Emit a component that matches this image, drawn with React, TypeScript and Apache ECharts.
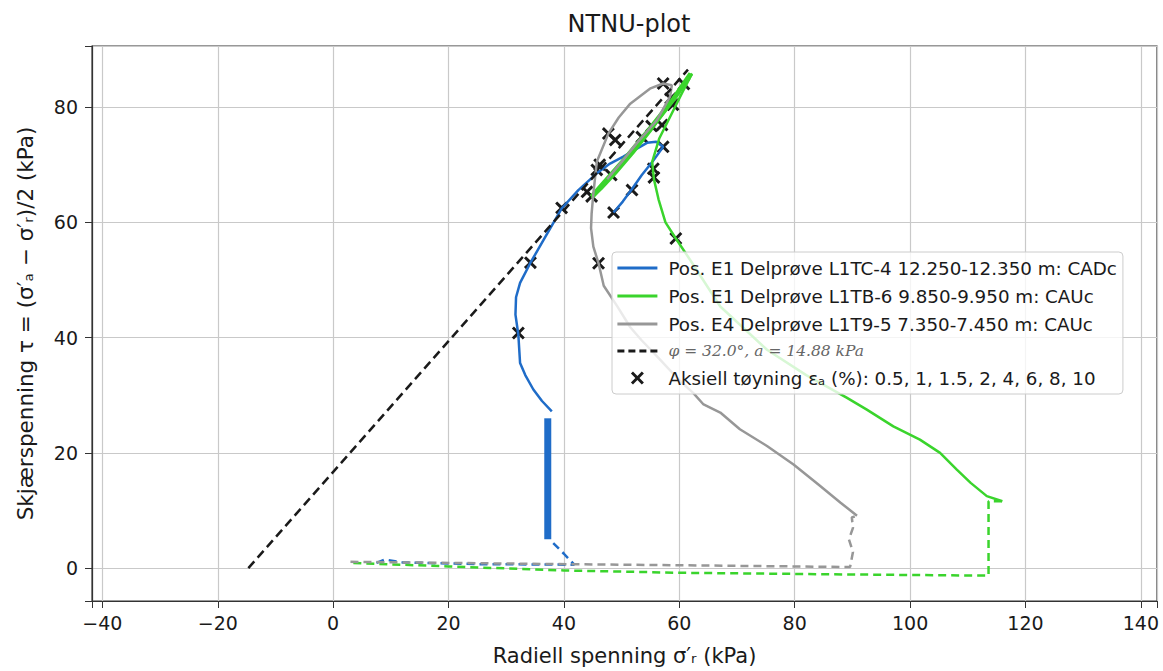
import React, { useEffect, useRef } from "react";
import * as echarts from "echarts";

type P = [number, number];

// Legend names
const nameBlue = "Pos. E1 Delprøve L1TC-4 12.250-12.350 m: CADc";
const nameGreen = "Pos. E1 Delprøve L1TB-6 9.850-9.950 m: CAUc";
const nameGray = "Pos. E4 Delprøve L1T9-5 7.350-7.450 m: CAUc";
const namePhi = "φ = 32.0°, a = 14.88 kPa";
const nameMarks = "Aksiell tøyning εₐ (%): 0.5, 1, 1.5, 2, 4, 6, 8, 10";

// Blue (CADc)
const blueConsol: P[] = [[7.5, 0.9], [9, 1.5], [12, 1.0], [25, 0.7], [41.8, 0.6], [40, 2.5], [37.9, 4.6]];
const blueBand: P[] = [[37.2, 5], [37.2, 26]];
const blueShear: P[] = [
  [37.9, 27.2], [36.2, 29], [34.7, 31], [33.3, 33.5], [32.4, 35.6], [32.1, 40.5], [31.6, 44], [31.7, 47],
  [32.4, 49.5], [34.2, 53], [36.5, 57], [39.6, 62.4], [42.5, 65.6], [45.7, 68.5], [48, 70.2], [50.3, 71.4],
  [52.5, 72.7], [54.4, 73.8], [56, 74], [57.2, 73.1], [55.4, 70.6], [53.5, 68.2], [51.8, 65.8], [50.2, 63.6], [48.6, 61.7],
];

// Green (CAUc)
const greenConsol: P[] = [[3.5, 0.9], [20, 0.3], [40, -0.4], [60, -0.8], [90, -1.1], [113.6, -1.3], [113.6, 2.8], [113.6, 11.6], [116, 11.6]];
const greenBand: P[] = [[44.8, 64.4], [50, 70.3], [55, 76.3], [59, 81.4], [62, 85.8]];
const greenShear: P[] = [
  [116, 11.6], [113.3, 12.5], [110.5, 14.8], [108.1, 17.1], [105.2, 20], [101.7, 22.3], [97.1, 24.6], [92.5, 27.5],
  [89, 29.6], [82, 33.5], [75.2, 37.9], [67.1, 45.4], [62, 53.3], [59.4, 57.2], [57.6, 60], [56.4, 64], [55.6, 67.5],
  [55.3, 70.5], [56.5, 74.5], [58.5, 78.5], [60.5, 82.5], [62.2, 85.8], [61, 84.5], [58, 80], [55, 75.8], [52, 72],
  [49, 68.5], [46.5, 65.8], [44.8, 64.2],
];

// Gray (CAUc)
const grayConsol: P[] = [[3, 1.1], [30, 0.8], [60, 0.5], [89.6, 0.2], [90.1, 2.8], [89.4, 5], [90.1, 7], [89.9, 8.8], [90.8, 9.1]];
const grayShear: P[] = [
  [90.8, 9.1], [87.9, 11.4], [84, 14.6], [79.8, 18], [75.2, 21.2], [70.5, 24.1], [67.1, 27], [64.2, 28.4],
  [62.4, 30.4], [60, 32.6], [56.1, 36.8], [53.5, 39.5], [51.5, 41.8], [49.2, 45.5], [46.9, 49], [46, 52.9],
  [45.1, 55.8], [44.7, 59], [44.8, 61.5], [45.1, 65], [45.7, 70.5], [47.7, 75.4], [49.5, 78.2], [51.5, 80.6],
  [54.9, 83.2], [57.2, 84.1], [58.7, 83.8], [58.4, 81.8], [56.1, 77.7], [52.6, 73.7], [50, 70.5], [47.5, 67.5],
];

// Failure line
const phiLine: P[] = [[-14.7, 0], [61.5, 86.5]];

// Strain markers
const blueMarks: P[] = [[32.1, 40.8], [34.2, 53], [39.6, 62.5], [45.7, 69.1], [57.2, 73.1], [55.5, 69.3], [51.8, 65.6], [48.6, 61.7]];
const greenMarks: P[] = [[59.4, 57.2], [55.6, 67.8], [57, 76.9], [58.9, 80.4], [60.8, 84], [53.5, 74.8], [48.2, 68.2], [44, 65.3]];
const grayMarks: P[] = [[46, 52.9], [44.8, 64.5], [46.2, 70], [47.7, 75.4], [57.2, 84.1], [58.5, 81.5], [55.2, 76.7], [48.9, 74.3]];

const xMin = -41.8;
const xMax = 142.8;
const yMin = -5.7;
const yMax = 90.6;

const BLUE = "#1f6cc8";
const GREEN = "#3ad42c";
const GRAY = "#979797";
const BLACK = "#1a1a1a";
const FONT = "DejaVu Sans";

const XPATH = "path://M0,1.6L1.6,0L5,3.4L8.4,0L10,1.6L6.6,5L10,8.4L8.4,10L5,6.6L1.6,10L0,8.4L3.4,5Z";

const fmt = (v: number) => {
  if (Math.abs(v - Math.round(v / 20) * 20) > 1e-6) return "";
  return v < 0 ? "\u2212" + Math.abs(v) : String(v);
};

export default function App() {
  const ref = useRef<HTMLDivElement>(null);
  useEffect(() => {
    const chart = echarts.init(ref.current!, null, { renderer: "svg" });
    const line = (name: string, data: P[], color: string, width: number, dashed = false) => ({
      name,
      type: "line",
      data,
      symbol: "none",
      showSymbol: false,
      lineStyle: { color, width, type: dashed ? [8, 5] : "solid" },
      itemStyle: { color },
      emphasis: { disabled: true },
    });
    const legLine = (name: string, color: string, dashed = false) => ({
      name,
      itemStyle: { opacity: 0 },
      lineStyle: { color, width: 2.8, type: dashed ? [7, 4] : "solid" },
    });
    chart.setOption({
      animation: false,
      title: {
        text: "NTNU-plot",
        left: 624,
        top: 7,
        textAlign: "center",
        textStyle: { fontFamily: FONT, fontSize: 24, fontWeight: "normal", color: BLACK },
      },
      grid: {
        left: 92,
        right: 6,
        top: 46,
        bottom: 69,
        show: true,
        borderColor: "#333",
        borderWidth: 1.2,
        backgroundColor: "transparent",
      },
      xAxis: {
        type: "value",
        min: xMin,
        max: xMax,
        splitNumber: 9,
        name: "Radiell spenning σ′ᵣ (kPa)",
        nameLocation: "middle",
        nameGap: 44,
        nameTextStyle: { fontFamily: FONT, fontSize: 21, color: BLACK },
        axisLine: { show: true, onZero: false, lineStyle: { color: "#333", width: 1.2 } },
        axisTick: { show: true, length: 7, inside: false, lineStyle: { color: "#333" } },
        axisLabel: { formatter: fmt, fontFamily: FONT, fontSize: 19, color: BLACK, margin: 12 },
        splitLine: { show: true, lineStyle: { color: "#c9c9c9", width: 1.2 } },
      },
      yAxis: {
        type: "value",
        min: yMin,
        max: yMax,
        splitNumber: 5,
        name: "Skjærspenning τ = (σ′ₐ − σ′ᵣ)/2 (kPa)",
        nameLocation: "middle",
        nameGap: 56,
        nameTextStyle: { fontFamily: FONT, fontSize: 21.5, color: BLACK },
        axisLine: { show: true, onZero: false, lineStyle: { color: "#333", width: 1.2 } },
        axisTick: { show: true, length: 7, inside: false, lineStyle: { color: "#333" } },
        axisLabel: { formatter: fmt, fontFamily: FONT, fontSize: 19, color: BLACK, margin: 14 },
        splitLine: { show: true, lineStyle: { color: "#c9c9c9", width: 1.2 } },
      },
      legend: {
        orient: "vertical",
        left: 612,
        top: 252,
        itemWidth: 40,
        itemHeight: 13,
        itemGap: 10,
        backgroundColor: "rgba(255,255,255,0.8)",
        borderColor: "#cccccc",
        borderWidth: 1,
        borderRadius: 4,
        padding: [7, 6, 7, 4],
        data: [
          legLine(nameBlue, BLUE),
          legLine(nameGreen, GREEN),
          legLine(nameGray, GRAY),
          legLine(namePhi, BLACK, true),
          { name: nameMarks, itemStyle: { color: BLACK, opacity: 1 } },
        ],
        formatter: (n: string) => (n === namePhi ? "{m|" + n + "}" : n),
        textStyle: {
          fontFamily: FONT,
          fontSize: 18.3,
          color: BLACK,
          padding: [0, 0, 0, 6],
          rich: {
            m: { fontFamily: "DejaVu Serif", fontStyle: "italic", fontSize: 15.5, color: "#666" },
          },
        },
      },
      series: [
        line("_bc", blueConsol, BLUE, 2.5, true),
        line("_bb", blueBand, BLUE, 7),
        line(nameBlue, blueShear, BLUE, 2.5),
        line("_gc", greenConsol, GREEN, 2.5, true),
        line("_gb", greenBand, GREEN, 5),
        line(nameGreen, greenShear, GREEN, 2.5),
        line("_yc", grayConsol, GRAY, 2.5, true),
        line(nameGray, grayShear, GRAY, 2.5),
        {
          ...line(namePhi, phiLine, BLACK, 2.5),
          lineStyle: { color: BLACK, width: 2.5, type: [9, 5] },
        },
        {
          name: nameMarks,
          type: "scatter",
          data: [...blueMarks, ...greenMarks, ...grayMarks],
          symbol: XPATH,
          symbolSize: 13,
          itemStyle: { color: BLACK, opacity: 1 },
          emphasis: { disabled: true },
        },
      ],
    });
    return () => chart.dispose();
  }, []);
  return <div ref={ref} style={{ position: "absolute", left: 0, top: 0, width: 1163, height: 671 }} />;
}
